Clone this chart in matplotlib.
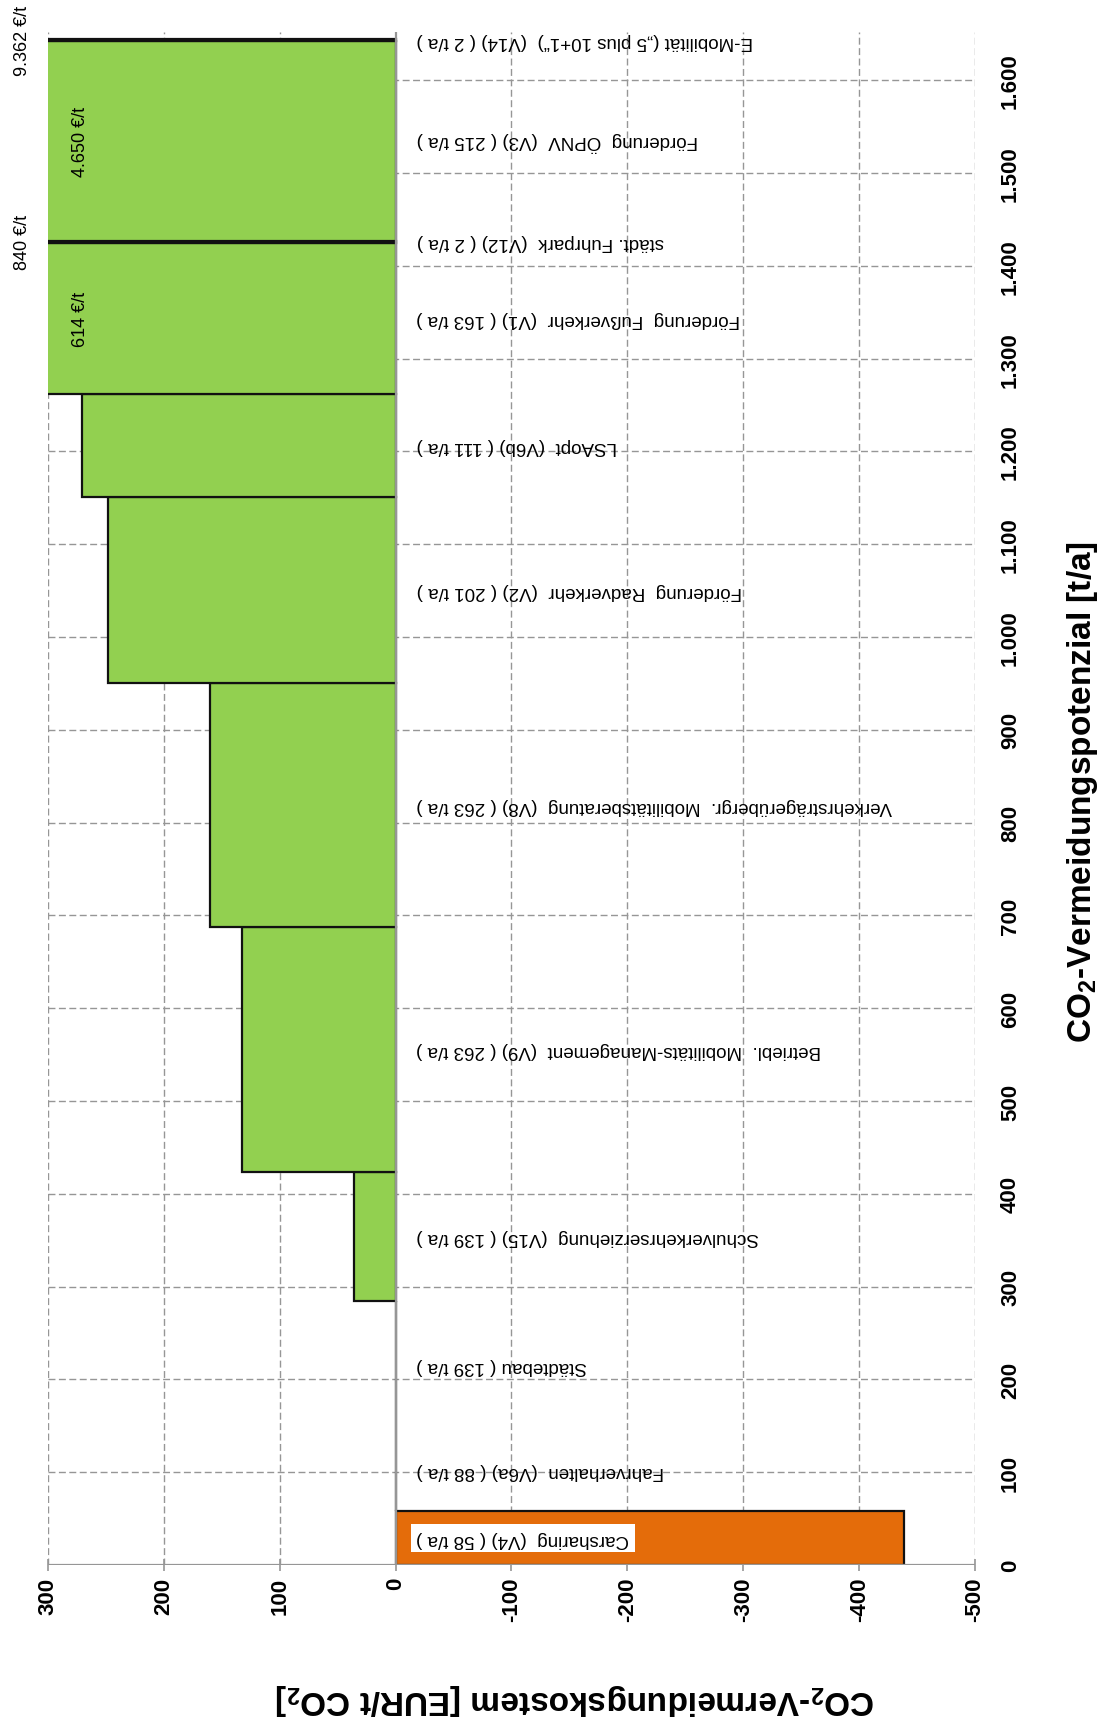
import numpy as np
import matplotlib
matplotlib.use("Agg")
import matplotlib.pyplot as plt
from matplotlib import font_manager as fm

plt.rcParams['font.family'] = ['Liberation Sans', 'DejaVu Sans']
plt.rcParams['mathtext.fontset'] = 'custom'
plt.rcParams['mathtext.rm'] = 'Liberation Sans'
plt.rcParams['mathtext.bf'] = 'Liberation Sans:bold'

try:
    fm.findfont(fm.FontProperties(family='Liberation Sans Narrow'), fallback_to_default=False)
    LABEL_FAMILY, LABEL_SIZE = ['Liberation Sans Narrow', 'DejaVu Sans'], 16
except Exception:
    LABEL_FAMILY, LABEL_SIZE = ['Liberation Sans', 'DejaVu Sans'], 13.5

# ---- data ----
names = ["Carsharing", "Fahrverhalten", "Städtebau", "Schulverkehrserziehung",
         "Betriebl.  Mobilitäts-Management", "Verkehrsträgerübergr.  Mobilitätsberatung",
         "Förderung  Radverkehr", "LSAopt", "Förderung  Fußverkehr", "städt. Fuhrpark",
         "Förderung  ÖPNV", "E-Mobilität („5 plus 10+1“)"]
codes = ["V4", "V6a", "", "V15", "V9", "V8", "V2", "V6b", "V1", "V12", "V3", "V14"]
potentials = [58, 88, 139, 139, 263, 263, 201, 111, 163, 2, 215, 2]      # t/a
costs = [-439, 0, 0, 36, 133, 160, 248, 271, 614, 840, 4650, 9362]      # EUR/t CO2
cost_ticks = [300, 200, 100, 0, -100, -200, -300, -400, -500]
pot_ticks = list(range(0, 1700, 100))

GREEN = "#92D050"
ORANGE = "#E46C0A"
GRID = "#969696"

starts = np.concatenate([[0], np.cumsum(potentials)[:-1]])

fig = plt.figure(figsize=(11.13, 17.24), dpi=100)
ax = fig.add_axes([48/1113, 1-1566/1724, 927/1113, 1533/1724])
ax.set_xlim(300, -500)
ax.set_ylim(0, 1652)

colors = [ORANGE if c < 0 else GREEN for c in costs]
ax.barh(starts, costs, height=potentials, left=0, align='edge', color=colors,
        edgecolor='#111111', linewidth=1.6, zorder=3)

# grid
dash = (0, (5, 2.5))
for c in cost_ticks:
    if c != 0:
        ax.axvline(c, color=GRID, lw=1.0, ls=dash, zorder=1)
for p in pot_ticks[1:]:
    ax.axhline(p, color=GRID, lw=1.0, ls=dash, zorder=1)
ax.axvline(0, color=GRID, lw=1.6, zorder=5)
ax.axhline(0, color=GRID, lw=1.6, zorder=5)

for s in ['top', 'left', 'right', 'bottom']:
    ax.spines[s].set_visible(False)

ax.set_xticks(cost_ticks)
ax.set_xticklabels([f"{c}" for c in cost_ticks], rotation=90, fontsize=16,
                   fontweight='bold', va='top', ha='center')
ax.tick_params(axis='x', length=9, width=1.2, color=GRID, pad=4, direction='inout')

ax.yaxis.tick_right()
ax.set_yticks(pot_ticks)
ax.set_yticklabels([f"{p:,}".replace(",", ".") for p in pot_ticks], rotation=90,
                   fontsize=16, fontweight='bold', va='center', ha='left')
ax.tick_params(axis='y', length=0, pad=18)

# bar labels (upside down, as in the rotated original)
for n, c, p, s, cost in zip(names, codes, potentials, starts, costs):
    code = f" ({c})" if c else ""
    lab = f"{n}{' ' if c else ''}{code} ( {p} t/a )"
    kw = {}
    if cost < 0:
        kw['bbox'] = dict(facecolor='white', edgecolor='none', pad=4)
    ax.text(-18, s + p / 2, lab, rotation=180, ha='left', va='center',
            fontsize=LABEL_SIZE, family=LABEL_FAMILY, zorder=6, **kw)

# value labels for bars beyond the axis range
for c, p, s in zip(costs, potentials, starts):
    if c > 300:
        txt = f"{c:,} €/t".replace(",", ".")
        if p > 50:
            ax.text(272, s + p / 2, txt, rotation=90, ha='center', va='center',
                    fontsize=13, zorder=6)
        else:
            ax.text(322, s + p / 2, txt, rotation=90, ha='center', va='center',
                    fontsize=13, zorder=6, clip_on=False)

fig.text(1083/1113, 1-792/1724, r"CO$_\mathbf{2}$-Vermeidungspotenzial [t/a]",
         rotation=90, ha='center', va='center', fontsize=24, fontweight='bold')
fig.text(575/1113, 1-1700/1724, r"CO$_\mathbf{2}$-Vermeidungskostem [EUR/t CO$_\mathbf{2}$]",
         rotation=180, ha='center', va='center', fontsize=24, fontweight='bold')

fig.savefig("out.png", dpi=100, facecolor='white')
